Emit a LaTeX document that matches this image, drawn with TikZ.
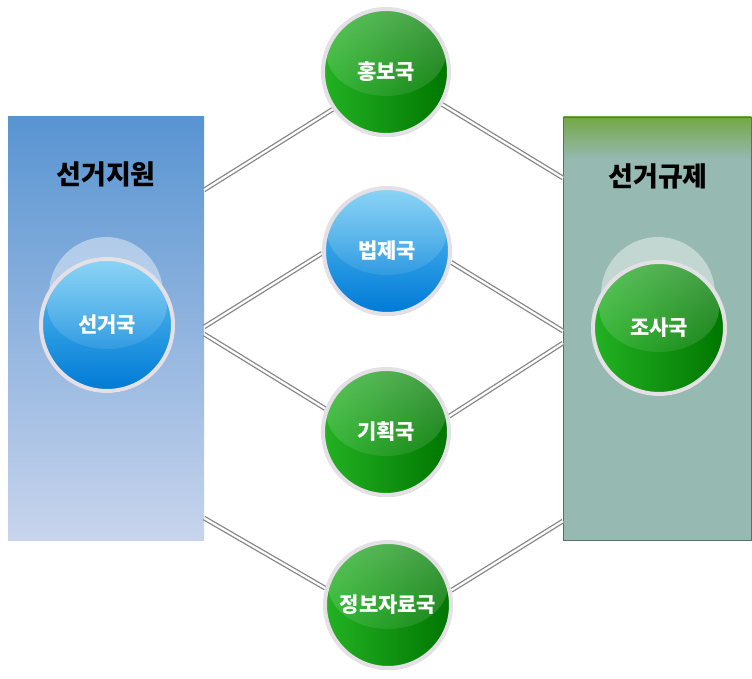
\documentclass[tikz,border=0pt]{standalone}
\usepackage{fontspec}
\newfontfamily\kr{Noto Sans CJK KR}
\usetikzlibrary{shadows,fadings}
\definecolor{gL}{RGB}{35,178,35}
\definecolor{gR}{RGB}{0,118,0}
\definecolor{bT}{RGB}{95,196,243}
\definecolor{bB}{RGB}{0,122,214}
\definecolor{ringc}{RGB}{228,224,230}
\definecolor{lpTop}{RGB}{88,148,210}
\definecolor{lpMid}{RGB}{140,174,222}
\definecolor{lpBot}{RGB}{200,212,236}
\definecolor{rpTeal}{RGB}{150,185,178}
\definecolor{rpGreen}{RGB}{115,168,68}
\definecolor{rpEdge}{RGB}{90,110,110}
\definecolor{connc}{RGB}{135,135,135}
\pgfdeclareverticalshading{rpanelshade}{100bp}{color(0bp)=(rpTeal); color(25bp)=(rpTeal); color(70bp)=(rpTeal); color(75bp)=(rpGreen); color(100bp)=(rpGreen)}
\pgfdeclarelayer{bg}
\pgfsetlayers{bg,main}
\tikzset{
  ball/.style={circle, minimum size=126pt, inner sep=0pt, draw=ringc, line width=4pt,
    text=white, font=\kr\bfseries\fontsize{21}{21}\selectfont,
    drop shadow={shadow xshift=0.6pt, shadow yshift=-2pt, opacity=0.3, fill=black!70},
    path picture={\fill[white, path fading=south, fill opacity=0.28]
      ([yshift=20pt]path picture bounding box.center) ellipse [x radius=60pt, y radius=44pt];}},
  greenball/.style={ball, left color=gL, right color=gR},
  blueball/.style={ball, top color=bT, bottom color=bB},
  bigball/.style={minimum size=132pt},
  ghost/.style={circle, minimum size=114pt, inner sep=0pt, fill=white, fill opacity=0.42},
  title/.style={font=\kr\bfseries\fontsize{27}{27}\selectfont, text=black},
  conn/.style={draw=connc, line width=1.3pt, double=white, double distance=2.2pt},
  panelL/.style={rectangle, minimum width=196pt, minimum height=423pt, inner sep=0pt,
    top color=lpTop, middle color=lpMid, bottom color=lpBot},
  panelR/.style={rectangle, minimum width=188pt, minimum height=423pt, inner sep=0pt,
    shading=rpanelshade, draw=rpEdge, line width=0.6pt},
}
\begin{document}
\begin{tikzpicture}[x=1pt, y=1pt]
\useasboundingbox (0,0) rectangle (752,678);
\begin{pgfonlayer}{bg}
  \node[panelL] (lp) at (106,349.5) {};
  \node[panelR] (rp) at (657.3,349.5) {};
\end{pgfonlayer}
\node[title] (tl) at (106,504) {선거지원};
\node[title] (tr) at (658,502) {선거규제};
% ghost discs
\node[ghost] (gl) at (106,384) {};
\node[ghost] (gr) at (658,384) {};
% balls
\node[blueball, bigball] (seon) at (107,353) {선거국};
\node[greenball, bigball] (josa) at (659,350) {조사국};
\node[greenball] (hong) at (386,606) {홍보국};
\node[blueball] (beop) at (387,427) {법제국};
\node[greenball] (gih) at (386,246) {기획국};
\node[greenball] (jeong) at (388,73) {정보자료국};
% panel-edge coordinates
\coordinate (L1) at (204,488);
\coordinate (L2a) at (204,351);
\coordinate (L2b) at (204,344);
\coordinate (L3) at (204,160);
\coordinate (R1) at (563,500);
\coordinate (R2) at (563,347);
\coordinate (R3) at (563,335);
\coordinate (R4) at (563,157);
\begin{pgfonlayer}{bg}
  \draw[conn] (L1) -- (hong.215);
  \draw[conn] (hong.330) -- (R1);
  \draw[conn] (L2a) -- (beop.182);
  \draw[conn] (beop.350) -- (R2);
  \draw[conn] (L2b) -- (gih.159);
  \draw[conn] (gih.14) -- (R3);
  \draw[conn] (L3) -- (jeong.165);
  \draw[conn] (jeong.13) -- (R4);
\end{pgfonlayer}
\end{tikzpicture}
\end{document}
